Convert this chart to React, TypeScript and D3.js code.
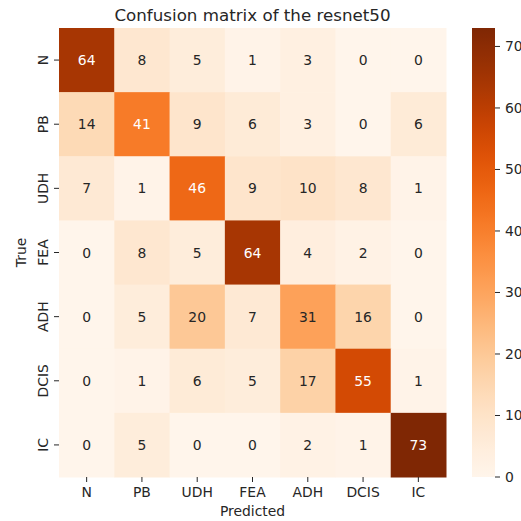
import * as d3 from 'd3'

const labels = ['N', 'PB', 'UDH', 'FEA', 'ADH', 'DCIS', 'IC']

// rows = true class, columns = predicted class
const rowN = [64, 8, 5, 1, 3, 0, 0]
const rowPB = [14, 41, 9, 6, 3, 0, 6]
const rowUDH = [7, 1, 46, 9, 10, 8, 1]
const rowFEA = [0, 8, 5, 64, 4, 2, 0]
const rowADH = [0, 5, 20, 7, 31, 16, 0]
const rowDCIS = [0, 1, 6, 5, 17, 55, 1]
const rowIC = [0, 5, 0, 0, 2, 1, 73]
const matrix = [rowN, rowPB, rowUDH, rowFEA, rowADH, rowDCIS, rowIC]

const cbarTicks = [0, 10, 20, 30, 40, 50, 60, 70]

const width = 521
const height = 521
const left = 59
const right = 446
const top = 28
const bottom = 477
const cbarX = 472
const cbarW = 23
const textColor = '#262626'
const font = 'DejaVu Sans, sans-serif'

const vmax = d3.max(matrix.flat())!
const color = d3.scaleSequential(d3.interpolateOranges).domain([0, vmax])

// seaborn-style annotation colour from cell luminance
function annotColor(v: number) {
  const c = d3.rgb(color(v))
  const lin = (x: number) => {
    const s = x / 255
    return s <= 0.03928 ? s / 12.92 : Math.pow((s + 0.055) / 1.055, 2.4)
  }
  const lum = 0.2126 * lin(c.r) + 0.7152 * lin(c.g) + 0.0722 * lin(c.b)
  return lum > 0.408 ? textColor : 'white'
}

export default function App() {
  const x = d3.scaleBand().domain(labels).range([left, right])
  const y = d3.scaleBand().domain(labels).range([top, bottom])
  const cy = d3.scaleLinear().domain([0, vmax]).range([bottom, top])
  const stops = d3.range(0, 1.0001, 0.02)

  return (
    <svg
      width={width}
      height={height}
      style={{ position: 'absolute', left: 0, top: 0, background: 'white' }}
      fontFamily={font}
    >
      <defs>
        <linearGradient id="cbar" x1="0" y1="1" x2="0" y2="0">
          {stops.map((t) => (
            <stop key={t} offset={t} stopColor={color(t * vmax)} />
          ))}
        </linearGradient>
      </defs>

      <text x={(left + right) / 2} y={21} textAnchor="middle" fontSize={16.7} fill={textColor}>
        Confusion matrix of the resnet50
      </text>

      {matrix.map((row, i) =>
        row.map((v, j) => (
          <g key={`${i}-${j}`}>
            <rect
              x={x(labels[j])!}
              y={y(labels[i])!}
              width={x.bandwidth() + 0.5}
              height={y.bandwidth() + 0.5}
              fill={color(v)}
            />
            <text
              x={x(labels[j])! + x.bandwidth() / 2}
              y={y(labels[i])! + y.bandwidth() / 2}
              dy="0.36em"
              textAnchor="middle"
              fontSize={13.9}
              fill={annotColor(v)}
            >
              {v}
            </text>
          </g>
        ))
      )}

      {/* x axis */}
      {labels.map((l) => {
        const cx = x(l)! + x.bandwidth() / 2
        return (
          <g key={'x' + l}>
            <line x1={cx} x2={cx} y1={bottom} y2={bottom + 5} stroke={textColor} strokeWidth={1} />
            <text x={cx} y={497} textAnchor="middle" fontSize={13.9} fill={textColor}>
              {l}
            </text>
          </g>
        )
      })}
      <text x={(left + right) / 2} y={516} textAnchor="middle" fontSize={13.9} fill={textColor}>
        Predicted
      </text>

      {/* y axis */}
      {labels.map((l) => {
        const cyy = y(l)! + y.bandwidth() / 2
        return (
          <g key={'y' + l}>
            <line x1={left - 5} x2={left} y1={cyy} y2={cyy} stroke={textColor} strokeWidth={1} />
            <text
              transform={`translate(48,${cyy}) rotate(-90)`}
              textAnchor="middle"
              fontSize={13.9}
              fill={textColor}
            >
              {l}
            </text>
          </g>
        )
      })}
      <text
        transform={`translate(25.5,${(top + bottom) / 2}) rotate(-90)`}
        textAnchor="middle"
        fontSize={13.9}
        fill={textColor}
      >
        True
      </text>

      {/* colorbar */}
      <rect x={cbarX} y={top} width={cbarW} height={bottom - top} fill="url(#cbar)" />
      {cbarTicks.map((t) => (
        <g key={'c' + t}>
          <line x1={cbarX + cbarW} x2={cbarX + cbarW + 5} y1={cy(t)} y2={cy(t)} stroke={textColor} strokeWidth={1} />
          <text x={cbarX + cbarW + 10} y={cy(t)} dy="0.36em" fontSize={13.9} fill={textColor}>
            {t}
          </text>
        </g>
      ))}
    </svg>
  )
}
